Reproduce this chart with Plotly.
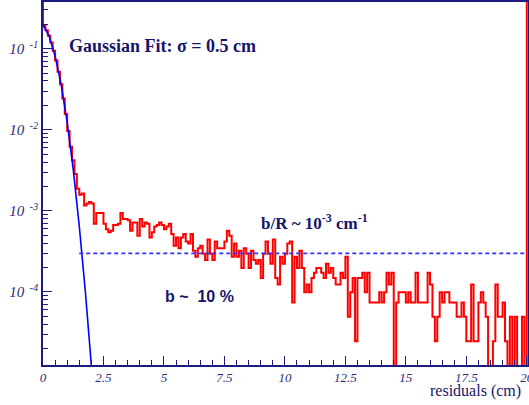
import numpy as np
import plotly.graph_objects as go

# residuals histogram: entries per 0.1 cm bin, 0 -> 20 cm
bin_width = 0.1
counts = [
    7800, 6800, 5850, 4810, 3800, 2890, 2100, 1470, 983, 631,
    389, 250, 170, 115, 76, 64, 66, 47, 50, 52,
    50, 28, 38, 38, 38, 28, 24, 22, 23, 27,
    27, 28, 38, 32, 32, 31, 23, 29, 29, 20,
    32, 26, 29, 28, 19, 22, 26, 27, 29, 27,
    24, 26, 28, 21, 15, 19, 14, 19, 21, 17,
    16, 21, 13, 11, 14, 15, 12, 10, 18, 12,
    10, 17, 14, 14, 14, 17, 23, 20, 11, 16,
    11, 13, 8, 14, 12, 8, 13, 10, 9, 10,
    6, 12, 17, 12, 9, 18, 6, 5, 11, 9,
    12, 16, 17, 3, 11, 8, 13, 8, 4, 5,
    4, 6, 7, 8, 8, 7, 6, 9, 7, 8,
    6, 5, 5, 7, 6, 11, 2, 4, 6, 1,
    6, 6, 7, 4, 7, 3, 3, 3, 3, 4,
    3, 4, 7, 5, 7, 0, 3, 4, 4, 4,
    3, 4, 3, 3, 7, 3, 3, 3, 3, 7,
    5, 2, 1, 2, 4, 3, 4, 4, 3, 3,
    3, 2, 2, 3, 2, 1, 1, 5, 1, 1,
    3, 4, 3, 2, 0, 0, 1, 5, 2, 2,
    3, 1, 0, 2, 0, 2, 0, 0, 2, 0,
]
# out-of-range neighbours (drawn as the vertical edges at 0 and 20)
edge_level = 1.0

# gaussian fit (normalised)
fit_x = [0, 0.25, 0.5, 0.75, 1.0, 1.25, 1.5, 1.75, 2.0, 2.05]
fit_y = [0.195, 0.1445, 0.0813, 0.0363, 0.0123, 0.00324, 6.46e-4, 1.02e-4, 1.23e-5, 7.8e-6]

# flat background level b/R
bkg_x = [1.5, 20]
bkg_y = [3e-4, 3e-4]

x_ticks = [0, 2.5, 5, 7.5, 10, 12.5, 15, 17.5, 20]
x_labels = ["0", "2.5", "5", "7.5", "10", "12.5", "15", "17.5", "20"]
y_ticks = [1e-4, 1e-3, 1e-2, 1e-1]
y_labels = ["10<sup>&nbsp;&nbsp;-%d</sup>" % p for p in (4, 3, 2, 1)]

AXIS = "#1c1c80"
TEXT = "#16166a"
LABEL = "#2c2c7c"

counts = np.array(counts, dtype=float)
norm = counts / counts.sum()
norm = np.where(norm > 0, norm, 1e-9)  # empty bins drop to the floor on log scale
lo = np.arange(len(counts)) * bin_width
hx = np.concatenate([[0], lo, [len(counts) * bin_width] * 2])
hy = np.concatenate([[edge_level], norm, [norm[-1], edge_level]])

fig = go.Figure()
fig.add_trace(go.Scatter(x=hx, y=hy, mode="lines", line=dict(color="#ff0000", width=2, shape="hv"),
                         hoverinfo="skip"))
fig.add_trace(go.Scatter(x=fit_x, y=fit_y, mode="lines", line=dict(color="#0000ff", width=1.6)))
fig.add_trace(go.Scatter(x=bkg_x, y=bkg_y, mode="lines",
                         line=dict(color="#3030ff", width=1.7, dash="4px,3px")))

fig.update_layout(
    width=529, height=405,
    margin=dict(l=43, r=1, t=2, b=40),
    paper_bgcolor="white", plot_bgcolor="white",
    showlegend=False,
    xaxis=dict(range=[0, 20.05], tickmode="array", tickvals=x_ticks, ticktext=x_labels,
               ticks="inside", ticklen=9, tickwidth=1.2, tickcolor=AXIS, automargin=False,
               ticklabeloverflow="allow",
               showline=True, linecolor=AXIS, linewidth=1.5, mirror=True,
               showgrid=False, zeroline=False,
               tickfont=dict(family="Liberation Serif", size=13, color=LABEL, style="italic"),
               minor=dict(tickmode="array", tickvals=[i * 0.5 for i in range(41) if i % 5],
                          ticks="inside", ticklen=5, tickwidth=1.2, tickcolor=AXIS)),
    yaxis=dict(type="log", range=[-4.9, -0.425], tickmode="array", tickvals=y_ticks, ticktext=y_labels,
               ticks="inside", ticklen=9, tickwidth=1.2, tickcolor=AXIS, automargin=False,
               showline=True, linecolor=AXIS, linewidth=1.5, mirror=True,
               showgrid=False, zeroline=False,
               tickfont=dict(family="Liberation Serif", size=15, color=LABEL, style="italic"),
               minor=dict(tickmode="array", tickvals=[m * 10.0 ** e for e in range(-5, 0) for m in range(2, 10)],
                          ticks="inside", ticklen=5, tickwidth=1.2, tickcolor=AXIS)),
)

fig.add_annotation(text="<b>Gaussian Fit: σ = 0.5 cm</b>", xref="paper", yref="paper",
                   x=0.049, y=0.879, xanchor="left", yanchor="middle", showarrow=False,
                   font=dict(family="Liberation Serif", size=18, color=TEXT))
fig.add_annotation(text="<b>b/R ~ 10<sup>-3</sup> cm<sup>-1</sup></b>", xref="paper", yref="paper",
                   x=0.446, y=0.394, xanchor="left", yanchor="middle", showarrow=False,
                   font=dict(family="Liberation Serif", size=17, color=TEXT))
fig.add_annotation(text="<b>b ~&nbsp; 10 %</b>", xref="paper", yref="paper",
                   x=0.248, y=0.1875, xanchor="left", yanchor="middle", showarrow=False,
                   font=dict(family="Liberation Sans", size=16, color=TEXT))
fig.add_annotation(text="residuals (cm)", xref="paper", yref="paper",
                   x=1, xshift=-5, y=0, yshift=-26, xanchor="right", yanchor="middle", showarrow=False,
                   font=dict(family="Liberation Serif", size=16, color=TEXT))

# drop the default page margin so the figure sits at the top-left corner
fig.write_html("out.html", config={"displayModeBar": False},
               post_script="document.body.style.margin='0';")
